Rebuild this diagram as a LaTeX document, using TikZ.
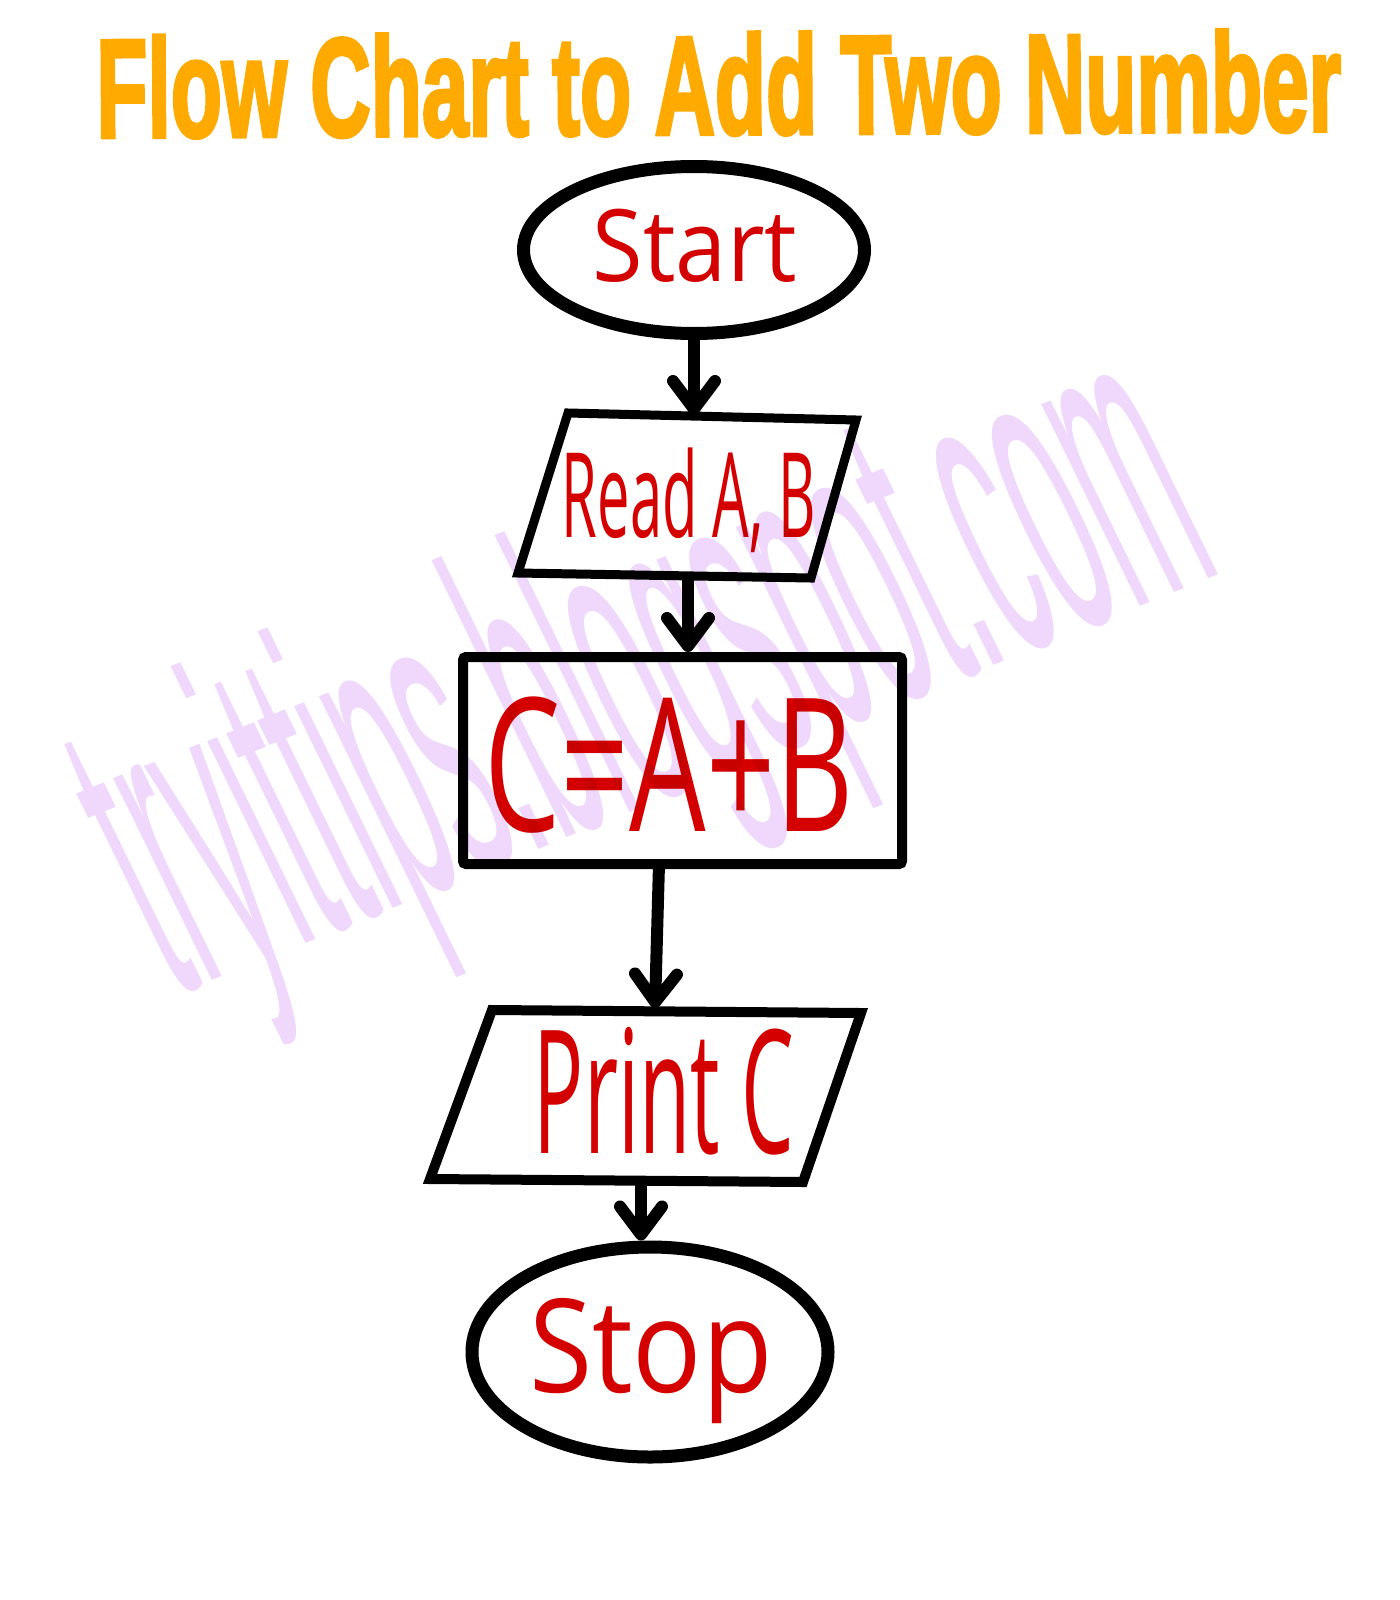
\documentclass[tikz,border=0pt]{standalone}
\usepackage{fontspec}
\usetikzlibrary{shapes.geometric,arrows.meta}
\setmainfont{Open Sans}
\newfontfamily\titlefont{Liberation Sans}[BoldFeatures={FakeBold=3}]
\newfontfamily\wmfont{Liberation Sans}
\definecolor{labred}{RGB}{212,0,0}
\definecolor{titleorange}{RGB}{255,170,0}
\definecolor{wmviolet}{RGB}{240,215,252}
\tikzset{
  lbl/.style={anchor=base, inner sep=0pt, text=labred},
  arr/.style={line width=6pt, -{Straight Barb[length=14pt,width=21pt,round]}},
  term/.style={ellipse, draw=black, line width=6.5pt, inner sep=0pt},
  io/.style={draw=black, line width=4.5pt, line join=miter},
}
\begin{document}
\begin{tikzpicture}[x=0.5pt,y=-0.5pt]
\useasboundingbox[fill=white] (0,0) rectangle (1399,1600);

% title
\node[anchor=base, inner sep=0pt, text=titleorange, rotate=0.3, xscale=0.598,
      font=\titlefont\bfseries\fontsize{70}{70}\selectfont] (title) at (719,134)
      {Flow Chart to Add Two Number};

% Start
\node[term, minimum width=170.5pt, minimum height=83.5pt] (start) at (694,250) {};
\node[lbl, xscale=0.92, font=\fontsize{50}{50}\selectfont] (starttxt) at (695,281) {Start};

% Read A, B
\coordinate (r1) at (568,413);
\coordinate (r2) at (856,420);
\coordinate (r3) at (811,578);
\coordinate (r4) at (518,573);
\draw[io] (r1) -- (r2) -- (r3) -- (r4) -- cycle;
\node[lbl, xscale=0.49, font=\fontsize{59}{59}\selectfont] (read) at (689,537) {Read A, B};
\coordinate (readtop) at (694,415);
\coordinate (readbot) at (688,578);

% C=A+B
\node[draw=black, line width=5pt, rounded corners=1.5pt, minimum width=219.5pt,
      minimum height=103.5pt, inner sep=0pt] (calc) at (682.5,760.5) {};
\node[lbl, xscale=0.65, font=\fontsize{93}{93}\selectfont] (calctxt) at (669,831) {C=A+B};
\coordinate (calcout) at (659,864);

% Print C
\coordinate (p1) at (492,1010);
\coordinate (p2) at (861,1013);
\coordinate (p3) at (803,1182);
\coordinate (p4) at (430,1179);
\draw[io, line width=5pt] (p1) -- (p2) -- (p3) -- (p4) -- cycle;
\node[lbl, xscale=0.485, font=\fontsize{86}{86}\selectfont] (print) at (664,1153) {Print C};
\coordinate (printtop) at (655,1008);
\coordinate (printbot) at (641,1182);

% Stop
\node[term, minimum width=178pt, minimum height=105pt] (stop) at (650,1352) {};
\node[lbl, xscale=0.885, font=\fontsize{65}{65}\selectfont] (stoptxt) at (651,1392) {Stop};

% connectors
\draw[arr] (start.south) -- (readtop);
\draw[arr] (readbot) -- (readbot |- calc.north);
\draw[arr] (calcout) -- (printtop);
\draw[arr] (printbot) -- (printbot |- stop.north);

% watermark
\node[anchor=base, inner sep=0pt, text=wmviolet, blend mode=multiply,
      rotate=22, xslant=-0.07, xscale=0.285,
      font=\wmfont\fontsize{212}{212}\selectfont] (wm) at (700,784)
      {tryittips.blogspot.com};
\end{tikzpicture}
\end{document}
